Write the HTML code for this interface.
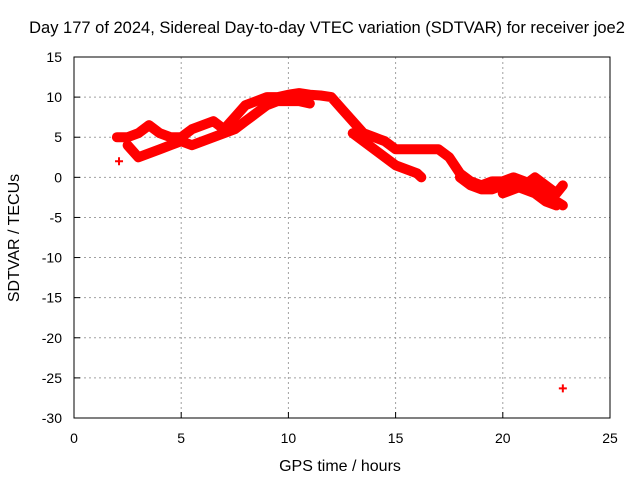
<!DOCTYPE html>
<html><head><meta charset="utf-8"><style>
body{margin:0;background:#fff}
svg{display:block;font-family:"Liberation Sans",sans-serif;font-size:14px}
</style></head><body>
<svg id="chart" width="640" height="480" xmlns="http://www.w3.org/2000/svg">
<text x="327" y="33" text-anchor="middle" style="font-size:16.5px">Day 177 of 2024, Sidereal Day-to-day VTEC variation (SDTVAR) for receiver joe2</text>
<text x="340" y="471" text-anchor="middle" style="font-size:16px">GPS time / hours</text>
<text transform="translate(19,238) rotate(-90)" text-anchor="middle" style="font-size:16px">SDTVAR / TECUs</text>
<g id="grid"></g><g id="ticks"></g><g id="marks"></g>
<rect x="74" y="57" width="536" height="361" fill="none" stroke="#000" stroke-width="1"/>
</svg>
<script>
const xTicks=[0,5,10,15,20,25];
const yTicks=[15,10,5,0,-5,-10,-15,-20,-25,-30];
const trackUpperT=[2,2.5,3,3.5,4,4.5,5,5.5,6,6.5,7,7.5,8,8.5,9,9.5,10,10.5,11,11.5,12,12.5,13,13.5,14,14.5,15,15.5,16,16.5,17,17.5,18,18.5,19,19.5,20,20.5,21,21.5,22,22.5,22.8];
const trackUpperV=[5,5,5.5,6.5,5.5,5,5,6,6.5,7,6,7.5,9,9.5,10,10,10.3,10.5,10.3,10.2,10,8.5,7,5.5,5,4.5,3.5,3.5,3.5,3.5,3.5,2.5,0.5,-0.5,-1,-0.5,-0.5,0,-0.5,-1.5,-2.5,-3,-3.5];
const trackLowerT=[2.5,3,3.5,4,4.5,5,5.5,6,6.5,7,7.5,8,8.5,9,9.5,10,10.5,11];
const trackLowerV=[4,2.5,3,3.5,4,4.5,4,4.5,5,5.5,6,7,8,9,9.5,9.5,9.5,9.2];
const trackCT=[13,13.5,14,14.5,15,15.5,16,16.2];
const trackCV=[5.5,4.5,3.5,2.5,1.5,1,0.5,0];
const trackDT=[18,18.5,19,19.5,20,20.5,21,21.5,22,22.5];
const trackDV=[0,-1,-1.5,-1.5,-1,-1,-1.5,-2,-3,-3.5];
const trackET=[20,20.5,21,21.5,22,22.5,22.8];
const trackEV=[-2,-1.5,-1,0,-1,-2,-1];
const isoT=[2.1,22.8];
const isoV=[2,-26.3];
const X=t=>74+t*536/25, Y=v=>57+(15-v)*361/45;
const NS="http://www.w3.org/2000/svg";
function mk(tag,a,parent){const e=document.createElementNS(NS,tag);for(const k in a)e.setAttribute(k,a[k]);document.getElementById(parent).appendChild(e);return e;}
xTicks.forEach(t=>{
 if(t>0&&t<25){const g=mk('line',{x1:X(t),x2:X(t),y1:57,y2:418,stroke:'#a0a0a0','stroke-dasharray':'2,3'},'grid');
 
 }
 const l=mk('text',{x:X(t),y:443,'text-anchor':'middle'},'ticks');l.textContent=t;
 
 
 mk('line',{x1:X(t),x2:X(t),y1:418,y2:412,stroke:'#000'},'ticks');
});
yTicks.forEach(v=>{
 if(v<15&&v>-30){const g=mk('line',{x1:74,x2:610,y1:Y(v),y2:Y(v),stroke:'#a0a0a0','stroke-dasharray':'2,3'},'grid');
 
 }
 const l=mk('text',{x:62,y:Y(v)+5,'text-anchor':'end'},'ticks');l.textContent=v;
 
 
 mk('line',{x1:74,x2:80,y1:Y(v),y2:Y(v),stroke:'#000'},'ticks');
});
function track(ts,vs,name,line){
 if(line){const p=mk('polyline',{points:ts.map((t,i)=>X(t)+','+Y(vs[i])).join(' '),fill:'none',stroke:'#f00','stroke-width':10,'stroke-linejoin':'round','stroke-linecap':'round'},'marks');
 
 }
 ts.forEach((t,i)=>{const x=X(t),y=Y(vs[i]);
  const m=mk('path',{d:`M${x-4},${y}H${x+4}M${x},${y-4}V${y+4}`,stroke:'#f00','stroke-width':2},'marks');
  
  });
}
track(trackUpperT,trackUpperV,'sdtvar-upper-track',true);
track(trackLowerT,trackLowerV,'sdtvar-lower-track',true);
track(trackCT,trackCV,'sdtvar-track-c',true);
track(trackDT,trackDV,'sdtvar-track-d',true);
track(trackET,trackEV,'sdtvar-track-e',true);
track(isoT,isoV,'sdtvar-isolated',false);
</script>
</body></html>
